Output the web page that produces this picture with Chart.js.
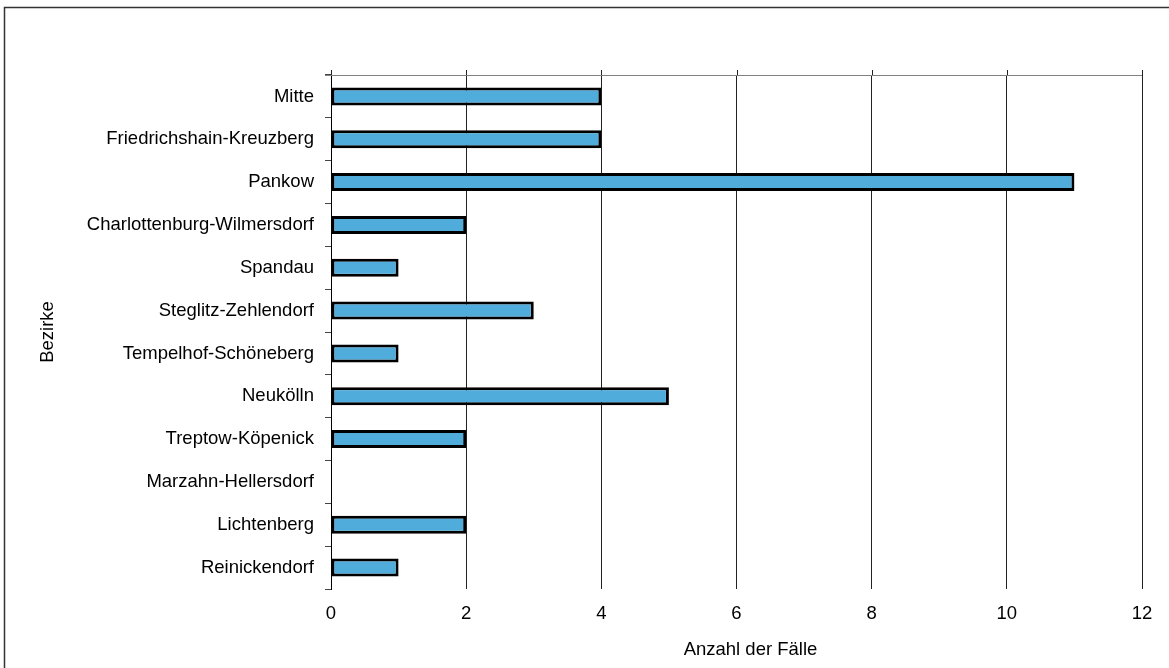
<!DOCTYPE html>
<html>
<head>
<meta charset="utf-8">
<script src="https://cdn.jsdelivr.net/npm/chart.js@4"></script>
<style>
html,body{margin:0;padding:0;background:#fff;}
#wrap{position:relative;width:1169px;height:668px;}
</style>
</head>
<body>
<div id="wrap"><canvas id="c" width="1169" height="668"></canvas></div>
<script>
const categories = ["Mitte","Friedrichshain-Kreuzberg","Pankow","Charlottenburg-Wilmersdorf","Spandau","Steglitz-Zehlendorf","Tempelhof-Schöneberg","Neukölln","Treptow-Köpenick","Marzahn-Hellersdorf","Lichtenberg","Reinickendorf"];
const cases = [4,4,11,2,1,3,1,5,2,0,2,1];
const xTicks = [0,2,4,6,8,10,12];
const xTitle = "Anzahl der Fälle";
const yTitle = "Bezirke";

const FONT = "'Liberation Sans', Arial, sans-serif";
const FS = 18.5;

const decor = {
  id: 'decor',
  beforeDraw(chart) {
    const ctx = chart.ctx;
    ctx.save();
    ctx.strokeStyle = '#333';
    ctx.lineWidth = 1.5;
    ctx.beginPath();
    ctx.moveTo(4.5, 700);
    ctx.lineTo(4.5, 7.5);
    ctx.lineTo(1200, 7.5);
    ctx.stroke();
    ctx.restore();
  },
  afterDraw(chart) {
    const ctx = chart.ctx;
    const a = chart.chartArea;
    const xs = chart.scales.x;
    ctx.save();
    ctx.strokeStyle = '#808080';
    ctx.lineWidth = 1;
    ctx.beginPath();
    ctx.moveTo(a.left - 6, Math.round(a.top) + 0.5);
    ctx.lineTo(a.right, Math.round(a.top) + 0.5);
    ctx.stroke();
    ctx.strokeStyle = '#222';
    ctx.beginPath();
    xTicks.forEach(v => {
      const px = Math.round(xs.getPixelForValue(v)) + 0.5;
      ctx.moveTo(px, a.top - 5);
      ctx.lineTo(px, a.top);
    });
    ctx.stroke();
    // x axis title (slightly right of plot centre, as in the original)
    ctx.fillStyle = '#000';
    ctx.font = FS + "px " + FONT;
    ctx.textAlign = 'center';
    ctx.textBaseline = 'middle';
    ctx.fillText(xTitle, (a.left + a.right) / 2 + 14, 650);
    ctx.restore();
  }
};

new Chart(document.getElementById('c'), {
  type: 'bar',
  data: {
    labels: categories,
    datasets: [{
      data: cases,
      backgroundColor: '#4FACDB',
      borderColor: '#000',
      borderWidth: ctx => ctx.raw === 0 ? 0 : 3,
      borderSkipped: false,
      categoryPercentage: 1,
      barPercentage: 0.42
    }]
  },
  options: {
    indexAxis: 'y',
    responsive: false,
    animation: false,
    layout: { padding: { left: 30, right: 27, top: 75, bottom: 0 } },
    plugins: { legend: { display: false }, tooltip: { enabled: false } },
    scales: {
      x: {
        min: 0, max: 12,
        afterBuildTicks: s => { s.ticks = xTicks.map(v => ({ value: v })); },
        afterFit: s => { s.height = 79; },
        border: { display: false },
        grid: { color: '#222', lineWidth: 1, drawTicks: false },
        ticks: { color: '#000', font: { family: FONT, size: FS }, padding: 14 },
        title: { display: false }
      },
      y: {
        afterFit: s => { s.width = 301; },
        border: { display: true, color: '#000', width: 1 },
        grid: { offset: true, drawOnChartArea: false, drawTicks: true, tickLength: 6, color: '#444' },
        ticks: { color: '#000', font: { family: FONT, size: FS }, padding: 11 },
        title: { display: true, text: yTitle, color: '#000', font: { family: FONT, size: FS }, padding: { top: 7, bottom: 4 } }
      }
    }
  },
  plugins: [decor]
});
</script>
</body>
</html>
